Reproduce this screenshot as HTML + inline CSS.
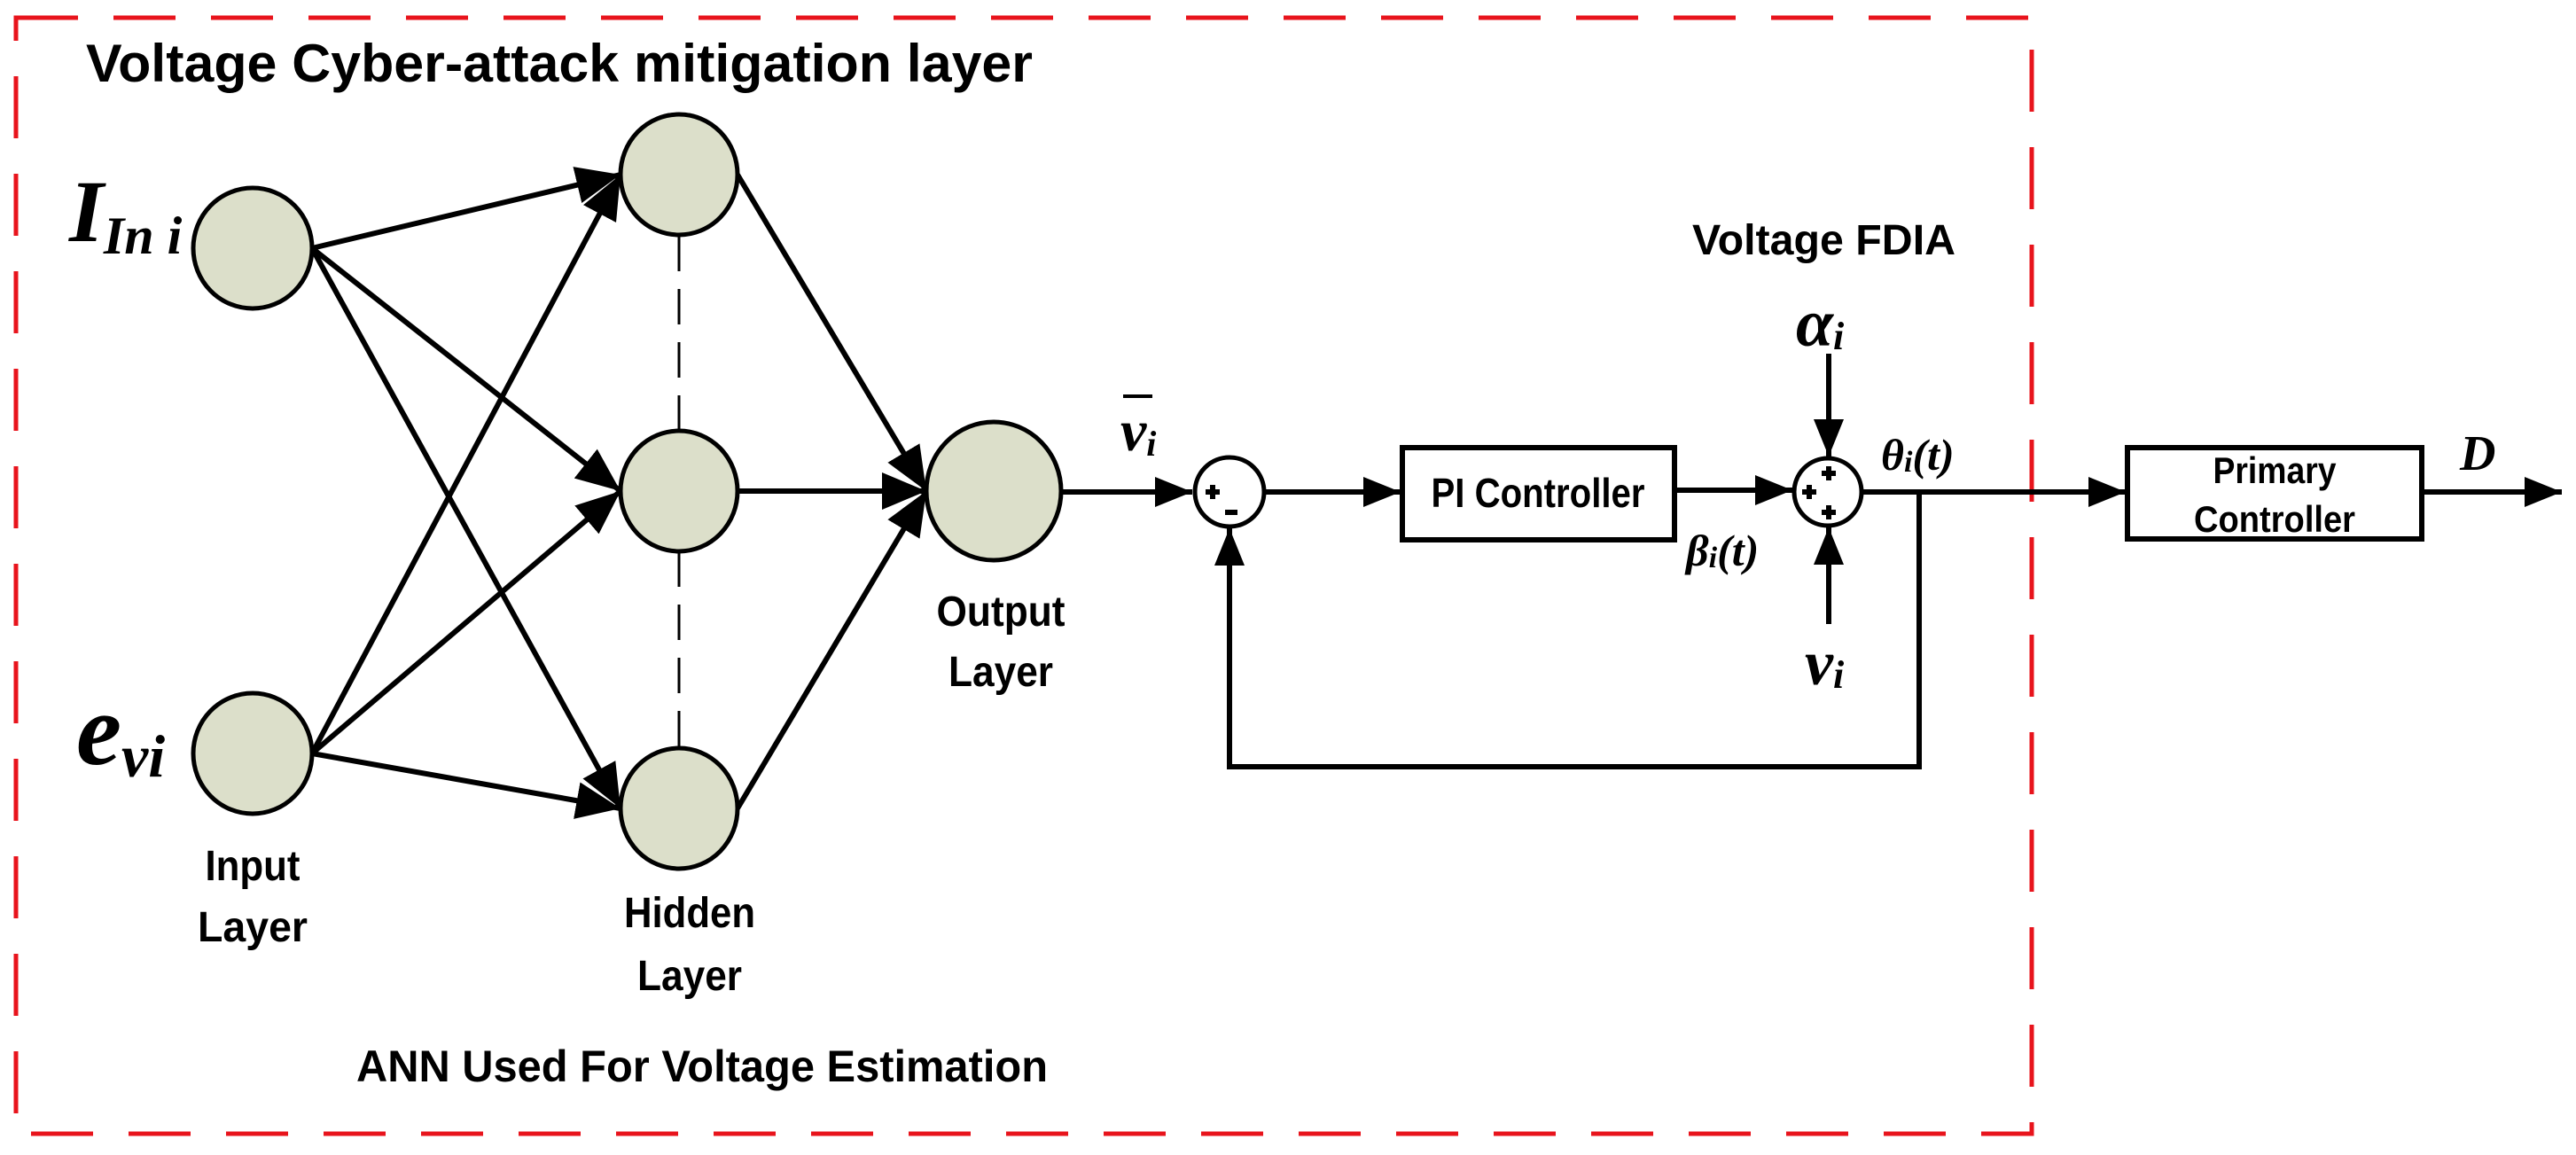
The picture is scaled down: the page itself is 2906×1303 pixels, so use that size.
<!DOCTYPE html>
<html><head><meta charset="utf-8"><style>
html,body{margin:0;padding:0;background:#fff;}
svg{display:block;}
.t{font-family:"Liberation Sans",sans-serif;font-weight:bold;fill:#000;}
.m{font-family:"Liberation Serif",serif;font-weight:bold;font-style:italic;fill:#000;}
</style></head><body>
<svg width="2906" height="1303" viewBox="0 0 2906 1303" xmlns="http://www.w3.org/2000/svg">
<defs>
<marker id="a" markerUnits="userSpaceOnUse" markerWidth="52" markerHeight="42" refX="50" refY="21" orient="auto">
<path d="M0,0 L50,21 L0,42 Z" fill="#000"/>
</marker>
<marker id="b" markerUnits="userSpaceOnUse" markerWidth="44" markerHeight="34" refX="42" refY="17" orient="auto">
<path d="M0,0 L42,17 L0,34 Z" fill="#000"/>
</marker>
</defs>
<rect x="18" y="20" width="2274" height="1259" fill="none" stroke="#e8141c" stroke-width="5" stroke-dasharray="70 40"/>
<text class="t" x="97" y="92" font-size="60" textLength="1068" lengthAdjust="spacingAndGlyphs">Voltage Cyber-attack mitigation layer</text>

<g stroke="#000" stroke-width="6" fill="none">
<line x1="352" y1="280" x2="700" y2="197" marker-end="url(#a)"/>
<line x1="352" y1="280" x2="700" y2="554" marker-end="url(#a)"/>
<line x1="352" y1="280" x2="700" y2="912" marker-end="url(#a)"/>
<line x1="352" y1="850" x2="700" y2="197" marker-end="url(#a)"/>
<line x1="352" y1="850" x2="700" y2="554" marker-end="url(#a)"/>
<line x1="352" y1="850" x2="700" y2="912" marker-end="url(#a)"/>
<line x1="832" y1="197" x2="1045" y2="554" marker-end="url(#a)"/>
<line x1="832" y1="554" x2="1045" y2="554" marker-end="url(#a)"/>
<line x1="832" y1="912" x2="1045" y2="554" marker-end="url(#a)"/>
</g>
<g stroke="#000" stroke-width="3" stroke-dasharray="40 20">
<line x1="766" y1="266" x2="766" y2="486"/>
<line x1="766" y1="622" x2="766" y2="844"/>
</g>
<g fill="#dcdfca" stroke="#000" stroke-width="5">
<ellipse cx="285" cy="280" rx="67" ry="68"/>
<ellipse cx="285" cy="850" rx="67" ry="68"/>
<ellipse cx="766" cy="197" rx="66" ry="68"/>
<ellipse cx="766" cy="554" rx="66" ry="68"/>
<ellipse cx="766" cy="912" rx="66" ry="68"/>
<ellipse cx="1121" cy="554" rx="76" ry="78"/>
</g>

<text class="m" x="78" y="272" font-size="100">I<tspan font-size="60" dy="14">In i</tspan></text>
<text class="m" x="86" y="862" font-size="115">e<tspan font-size="68" dy="14">vi</tspan></text>

<g class="t" font-size="48" text-anchor="middle" lengthAdjust="spacingAndGlyphs">
<text x="285" y="993" textLength="107" lengthAdjust="spacingAndGlyphs">Input</text>
<text x="285" y="1062" textLength="124" lengthAdjust="spacingAndGlyphs">Layer</text>
<text x="778" y="1046" textLength="148" lengthAdjust="spacingAndGlyphs">Hidden</text>
<text x="778" y="1117" textLength="118" lengthAdjust="spacingAndGlyphs">Layer</text>
<text x="1129" y="706" textLength="145" lengthAdjust="spacingAndGlyphs">Output</text>
<text x="1129" y="774" textLength="118" lengthAdjust="spacingAndGlyphs">Layer</text>
</g>
<text class="t" x="402" y="1220" font-size="50" textLength="780" lengthAdjust="spacingAndGlyphs">ANN Used For Voltage Estimation</text>
<text class="t" x="1909" y="287" font-size="48" textLength="297" lengthAdjust="spacingAndGlyphs">Voltage FDIA</text>

<!-- control loop -->
<g stroke="#000" stroke-width="6" fill="none">
<line x1="1197" y1="555" x2="1345" y2="555" marker-end="url(#b)"/>
<line x1="1427" y1="555" x2="1580" y2="555" marker-end="url(#b)"/>
<line x1="1891" y1="553" x2="2022" y2="553" marker-end="url(#b)"/>
<line x1="2063" y1="399" x2="2063" y2="515" marker-end="url(#b)"/>
<line x1="2063" y1="704" x2="2063" y2="595" marker-end="url(#b)"/>
<line x1="2100" y1="555" x2="2398" y2="555" marker-end="url(#b)"/>
<line x1="2734" y1="555" x2="2890" y2="555" marker-end="url(#b)"/>
<polyline points="2165,555 2165,865 1387,865 1387,596" marker-end="url(#b)"/>
</g>
<rect x="1582" y="505" width="307" height="104" fill="#fff" stroke="#000" stroke-width="6"/>
<rect x="2400" y="505" width="332" height="103" fill="#fff" stroke="#000" stroke-width="6"/>
<circle cx="1387" cy="555" r="39" fill="#fff" stroke="#000" stroke-width="5"/>
<circle cx="2062" cy="555" r="38" fill="#fff" stroke="#000" stroke-width="5"/>
<g fill="#000">
<rect x="1360" y="552" width="16" height="6"/><rect x="1365" y="547" width="6" height="16"/>
<rect x="1382" y="575" width="14" height="6"/>
<rect x="2055" y="531" width="16" height="6"/><rect x="2060" y="526" width="6" height="16"/>
<rect x="2033" y="552" width="16" height="6"/><rect x="2038" y="547" width="6" height="16"/>
<rect x="2055" y="575" width="16" height="6"/><rect x="2060" y="570" width="6" height="16"/>
</g>
<text class="t" x="1735" y="572" font-size="46" text-anchor="middle" textLength="241" lengthAdjust="spacingAndGlyphs">PI Controller</text>
<text class="t" x="2566" y="545" font-size="42" text-anchor="middle" textLength="139" lengthAdjust="spacingAndGlyphs">Primary</text>
<text class="t" x="2566" y="600" font-size="42" text-anchor="middle" textLength="182" lengthAdjust="spacingAndGlyphs">Controller</text>

<text class="m" x="1264" y="508" font-size="66">v<tspan font-size="40" dy="6">i</tspan></text>
<line x1="1267" y1="447" x2="1300" y2="447" stroke="#000" stroke-width="4"/>
<text class="m" x="2026" y="390" font-size="76">α<tspan font-size="44" dy="4">i</tspan></text>
<text class="m" x="2036" y="772" font-size="72">v<tspan font-size="44" dy="4">i</tspan></text>
<text class="m" x="2122" y="530" font-size="50">θ<tspan font-size="34" dy="2">i</tspan><tspan dy="-2">(t)</tspan></text>
<text class="m" x="1902" y="638" font-size="50">β<tspan font-size="34" dy="2">i</tspan><tspan dy="-2">(t)</tspan></text>
<text class="m" x="2775" y="530" font-size="56">D</text>
</svg>
</body></html>
